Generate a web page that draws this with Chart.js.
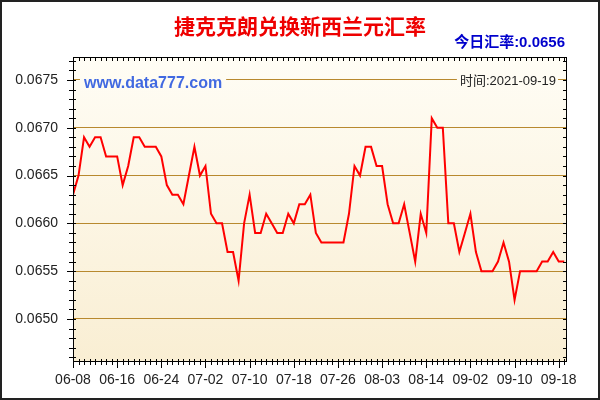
<!DOCTYPE html>
<html><head><meta charset="utf-8">
<script src="https://cdn.jsdelivr.net/npm/chart.js@4/dist/chart.umd.min.js"></script>
<style>html,body{margin:0;padding:0;background:#fff;}#wrap{width:600px;height:400px;position:relative;}</style>
</head><body><div id="wrap"><canvas id="c" width="600" height="400"></canvas></div>
<script>
const dates = [
 '06-08','06-09','06-10','06-11','06-12','06-13','06-14','06-15',
 '06-16','06-17','06-18','06-19','06-20','06-21','06-22','06-23',
 '06-24','06-25','06-26','06-27','06-28','06-29','06-30','07-01',
 '07-02','07-03','07-04','07-05','07-06','07-07','07-08','07-09',
 '07-10','07-11','07-12','07-13','07-14','07-15','07-16','07-17',
 '07-18','07-19','07-20','07-21','07-22','07-23','07-24','07-25',
 '07-26','07-27','07-28','07-29','07-30','07-31','08-01','08-02',
 '08-03','08-04','08-05','08-06','08-08','08-09','08-11','08-12',
 '08-14','08-16','08-18','08-20','08-23','08-25','08-27','08-30',
 '09-02','09-03','09-04','09-05','09-06','09-07','09-08','09-09',
 '09-10','09-11','09-12','09-13','09-14','09-15','09-16','09-17',
 '09-18','09-19'];
const rates = [
 0.0663,0.0665,0.0669,0.0668,0.0669,0.0669,0.0667,0.0667,
 0.0667,0.0664,0.0666,0.0669,0.0669,0.0668,0.0668,0.0668,
 0.0667,0.0664,0.0663,0.0663,0.0662,0.0665,0.0668,0.0665,
 0.0666,0.0661,0.0660,0.0660,0.0657,0.0657,0.0654,0.0660,
 0.0663,0.0659,0.0659,0.0661,0.0660,0.0659,0.0659,0.0661,
 0.0660,0.0662,0.0662,0.0663,0.0659,0.0658,0.0658,0.0658,
 0.0658,0.0658,0.0661,0.0666,0.0665,0.0668,0.0668,0.0666,
 0.0666,0.0662,0.0660,0.0660,0.0662,0.0659,0.0656,0.0661,
 0.0659,0.0671,0.0670,0.0670,0.0660,0.0660,0.0657,0.0659,
 0.0661,0.0657,0.0655,0.0655,0.0655,0.0656,0.0658,0.0656,
 0.0652,0.0655,0.0655,0.0655,0.0655,0.0656,0.0656,0.0657,
 0.0656,0.0656];
const yTickValues = [0.0650,0.0655,0.0660,0.0665,0.0670,0.0675];
const xLabelStep = 8;
const titleText = '捷克克朗兑换新西兰元汇率';
const todayText = '今日汇率:0.0656';
const siteText = 'www.data777.com';
const timeText = '时间:2021-09-19';

const points = rates.map((v, i) => ({x: i, y: v}));
let bgGrad = null;
function getGrad(ctx, area) {
  const g = ctx.createLinearGradient(0, area.top, 0, area.bottom);
  g.addColorStop(0, '#fffdf5');
  g.addColorStop(1, '#f9eed3');
  return g;
}
const decor = {
  id: 'decor',
  beforeDraw(chart) {
    const {ctx, chartArea: a} = chart;
    ctx.save();
    ctx.fillStyle = '#fff';
    ctx.fillRect(0, 0, chart.width, chart.height);
    ctx.fillStyle = getGrad(ctx, a);
    ctx.fillRect(a.left, a.top, a.right - a.left, a.bottom - a.top);
    ctx.restore();
  },
  afterDraw(chart) {
    const {ctx, chartArea: a, scales} = chart;
    const xs = scales.x, ys = scales.y;
    ctx.save();
    // labels with background boxes
    ctx.fillStyle = getGrad(ctx, a);
    ctx.font = 'bold 16px "Liberation Sans", Arial, sans-serif';
    let w = ctx.measureText(siteText).width;
    ctx.fillRect(80, 73, w + 8, 20);
    ctx.font = '13px "Liberation Sans", "Noto Sans CJK SC", sans-serif';
    let w2 = ctx.measureText(timeText).width;
    ctx.fillRect(556 - w2 - 3, 73, w2 + 5, 16);
    ctx.fillStyle = '#4169e1';
    ctx.font = 'bold 16px "Liberation Sans", Arial, sans-serif';
    ctx.textBaseline = 'middle';
    ctx.textAlign = 'left';
    ctx.fillText(siteText, 84, 84);
    ctx.fillStyle = '#222';
    ctx.font = '13px "Liberation Sans", "Noto Sans CJK SC", sans-serif';
    ctx.textAlign = 'right';
    ctx.fillText(timeText, 556, 81);
    // frame
    ctx.strokeStyle = '#000';
    ctx.lineWidth = 1;
    ctx.strokeRect(a.left + 0.5, a.top + 0.5, a.right - a.left - 1, a.bottom - a.top - 1);
    // y ticks
    ctx.beginPath();
    for (let k = 0; k <= 40; k++) {
      const v = 0.0645 + k * 0.0001;
      if (v < ys.min || v > ys.max) continue;
      const y = Math.round(ys.getPixelForValue(v)) + 0.5;
      const major = (k % 5 === 0);
      ctx.moveTo(a.left - (major ? 6 : 4), y);
      ctx.lineTo(a.left + 3, y);
      ctx.moveTo(a.right - 4, y);
      ctx.lineTo(a.right, y);
    }
    // x ticks
    for (let i = 0; i < rates.length; i++) {
      const x = Math.round(xs.getPixelForValue(i)) + 0.5;
      const major = (i % xLabelStep === 0);
      ctx.moveTo(x, a.bottom - 3);
      ctx.lineTo(x, a.bottom + (major ? 6 : 3));
      ctx.moveTo(x, a.top);
      ctx.lineTo(x, a.top + 4);
    }
    ctx.stroke();
    // titles
    ctx.textAlign = 'center';
    ctx.textBaseline = 'middle';
    ctx.fillStyle = '#ee0000';
    ctx.font = 'bold 21px "Noto Sans CJK SC", sans-serif';
    ctx.fillText(titleText, 300, 26);
    ctx.textAlign = 'right';
    ctx.fillStyle = '#0000cc';
    ctx.font = 'bold 15px "Liberation Sans", "Noto Sans CJK SC", sans-serif';
    ctx.fillText(todayText, 565, 43);
    // outer border
    ctx.strokeStyle = '#222';
    ctx.lineWidth = 2;
    ctx.strokeRect(1, 1, chart.width - 2, chart.height - 2);
    ctx.restore();
  }
};

new Chart(document.getElementById('c'), {
  type: 'line',
  data: {
    datasets: [{
      data: points,
      borderColor: '#ff0000',
      borderWidth: 2,
      pointRadius: 0,
      tension: 0,
      fill: false
    }]
  },
  options: {
    responsive: false,
    animation: false,
    devicePixelRatio: 1,
    layout: {padding: {top: 57, right: 33, left: 0, bottom: 0}},
    plugins: {legend: {display: false}, tooltip: {enabled: false}, title: {display: false}},
    scales: {
      x: {
        type: 'linear',
        min: 0,
        max: 89.5,
        afterFit(s) { s.height = 38; },
        afterBuildTicks(s) {
          const t = [];
          for (let i = 0; i < dates.length; i += xLabelStep) t.push({value: i});
          s.ticks = t;
        },
        grid: {display: false, drawTicks: false},
        border: {display: false},
        ticks: {
          autoSkip: false,
          maxRotation: 0,
          padding: 10,
          color: '#222',
          font: {family: '"Liberation Sans", Arial, sans-serif', size: 14},
          callback: (v) => dates[v]
        }
      },
      y: {
        min: 0.06455,
        max: 0.06774,
        afterFit(s) { s.width = 73; },
        afterBuildTicks(s) { s.ticks = yTickValues.map(v => ({value: v})); },
        grid: {color: '#b8892e', lineWidth: 1, drawTicks: false},
        border: {display: false},
        ticks: {
          padding: 15,
          color: '#222',
          font: {family: '"Liberation Sans", Arial, sans-serif', size: 14},
          callback: (v) => v.toFixed(4)
        }
      }
    }
  },
  plugins: [decor]
});
</script>
</body></html>
